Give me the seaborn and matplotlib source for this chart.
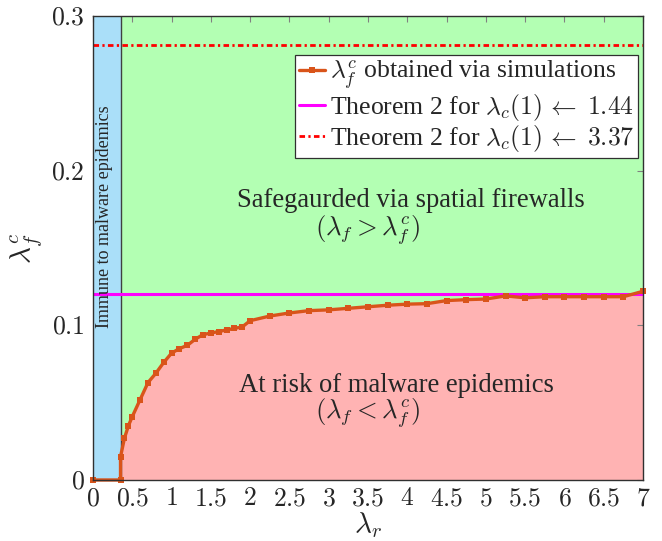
import numpy as np
import pandas as pd
import seaborn as sns
import matplotlib.pyplot as plt

sns.set_style("white")
plt.rcParams['font.family'] = ['Liberation Serif', 'DejaVu Serif']
plt.rcParams['mathtext.fontset'] = 'cm'

# simulated critical firewall rate
lam_r = [0, 0.35, 0.35, 0.4, 0.45, 0.5, 0.6, 0.7, 0.8, 0.9, 1.0, 1.1, 1.2, 1.3, 1.4,
         1.5, 1.6, 1.7, 1.8, 1.9, 2.0, 2.25, 2.5, 2.75, 3.0, 3.25, 3.5, 3.75, 4.0,
         4.25, 4.5, 4.75, 5.0, 5.25, 5.5, 5.75, 6.0, 6.25, 6.5, 6.75, 7.0]
lam_fc = [0, 0, 0.015, 0.027, 0.035, 0.041, 0.052, 0.063, 0.069, 0.076, 0.082, 0.085,
          0.087, 0.091, 0.094, 0.095, 0.096, 0.097, 0.098, 0.099, 0.103, 0.106, 0.108,
          0.1095, 0.110, 0.111, 0.112, 0.113, 0.1137, 0.114, 0.116, 0.1166, 0.117,
          0.119, 0.1178, 0.1185, 0.1185, 0.1185, 0.1185, 0.1185, 0.122]
thm_144 = 0.12
thm_337 = 0.281
lam_r_min = 0.35

xticks = [0, 0.5, 1, 1.5, 2, 2.5, 3, 3.5, 4, 4.5, 5, 5.5, 6, 6.5, 7]
yticks = [0, 0.1, 0.2, 0.3]

df = pd.DataFrame({"lam_r": lam_r, "lam_fc": lam_fc})
curve = df.iloc[2:]

fig = plt.figure(figsize=(6.62, 5.41), dpi=100)
ax = fig.add_axes([0.1405, 0.1128, 0.8308, 0.8576])

# shaded regions
ax.axvspan(0, lam_r_min, color="#aadff9", zorder=0)
ax.fill_between(curve["lam_r"], curve["lam_fc"], 0.3, color="#b3ffb3", lw=0, zorder=0)
ax.fill_between(curve["lam_r"], 0, curve["lam_fc"], color="#ffb3b3", lw=0, zorder=0)
ax.axvline(lam_r_min, color="#404040", lw=1, zorder=1)

ax.axhline(thm_337, color="#ff0000", lw=2, dashes=(2, 1.2, 0.8, 1.2), zorder=2,
           label=r"Theorem 2 for $\lambda_c(1)\,\leftarrow\;3.37$")
ax.axhline(thm_144, color="#ff00ff", lw=2.2, zorder=2,
           label=r"Theorem 2 for $\lambda_c(1)\,\leftarrow\;1.44$")
sns.lineplot(data=df, x="lam_r", y="lam_fc", ax=ax, estimator=None, sort=False,
             color="#d9541a", lw=2.4, marker="s", markersize=4, markeredgewidth=0,
             label=r"$\lambda_f^c$ obtained via simulations", zorder=3, clip_on=False)

ax.set_xlim(0, 7)
ax.set_ylim(0, 0.3)
ax.set_xticks(xticks)
ax.set_xticklabels([f"${t:g}$" for t in xticks])
ax.set_yticks(yticks)
ax.set_yticklabels([f"${t:g}$" for t in yticks])
ax.tick_params(direction="in", length=4, width=0.8, color="#808080",
               top=True, right=True, labelsize=18.5, pad=6)
ax.set_xlabel(r"$\lambda_r$", fontsize=21, labelpad=0)
ax.set_ylabel(r"$\lambda_f^c$", fontsize=21, labelpad=4)
for s in ax.spines.values():
    s.set_color("#303030")
    s.set_linewidth(1)
    s.set_zorder(5)

ax.text(0.15, 0.170, "Immune to malware epidemics", rotation=90, ha="center",
        va="center", fontsize=13)
ax.text(4.05, 0.181, "Safegaurded via spatial firewalls", ha="center", va="center", fontsize=19.2)
ax.text(3.49, 0.1616, r"$(\lambda_f > \lambda_f^c)$", ha="center", va="center", fontsize=19.2)
ax.text(3.865, 0.0614, "At risk of malware epidemics", ha="center", va="center", fontsize=19.2)
ax.text(3.49, 0.0433, r"$(\lambda_f < \lambda_f^c)$", ha="center", va="center", fontsize=19.2)

h, l = ax.get_legend_handles_labels()
order = [2, 1, 0]
leg = ax.legend([h[i] for i in order], [l[i] for i in order], loc="upper right",
                bbox_to_anchor=(0.991, 0.916), fontsize=18.5, fancybox=False,
                framealpha=1, edgecolor="#303030", handlelength=1.0,
                handletextpad=0.2, borderpad=0.15, labelspacing=0.0, borderaxespad=0)
leg.get_frame().set_linewidth(0.9)

fig.savefig("out.png", dpi=100)
